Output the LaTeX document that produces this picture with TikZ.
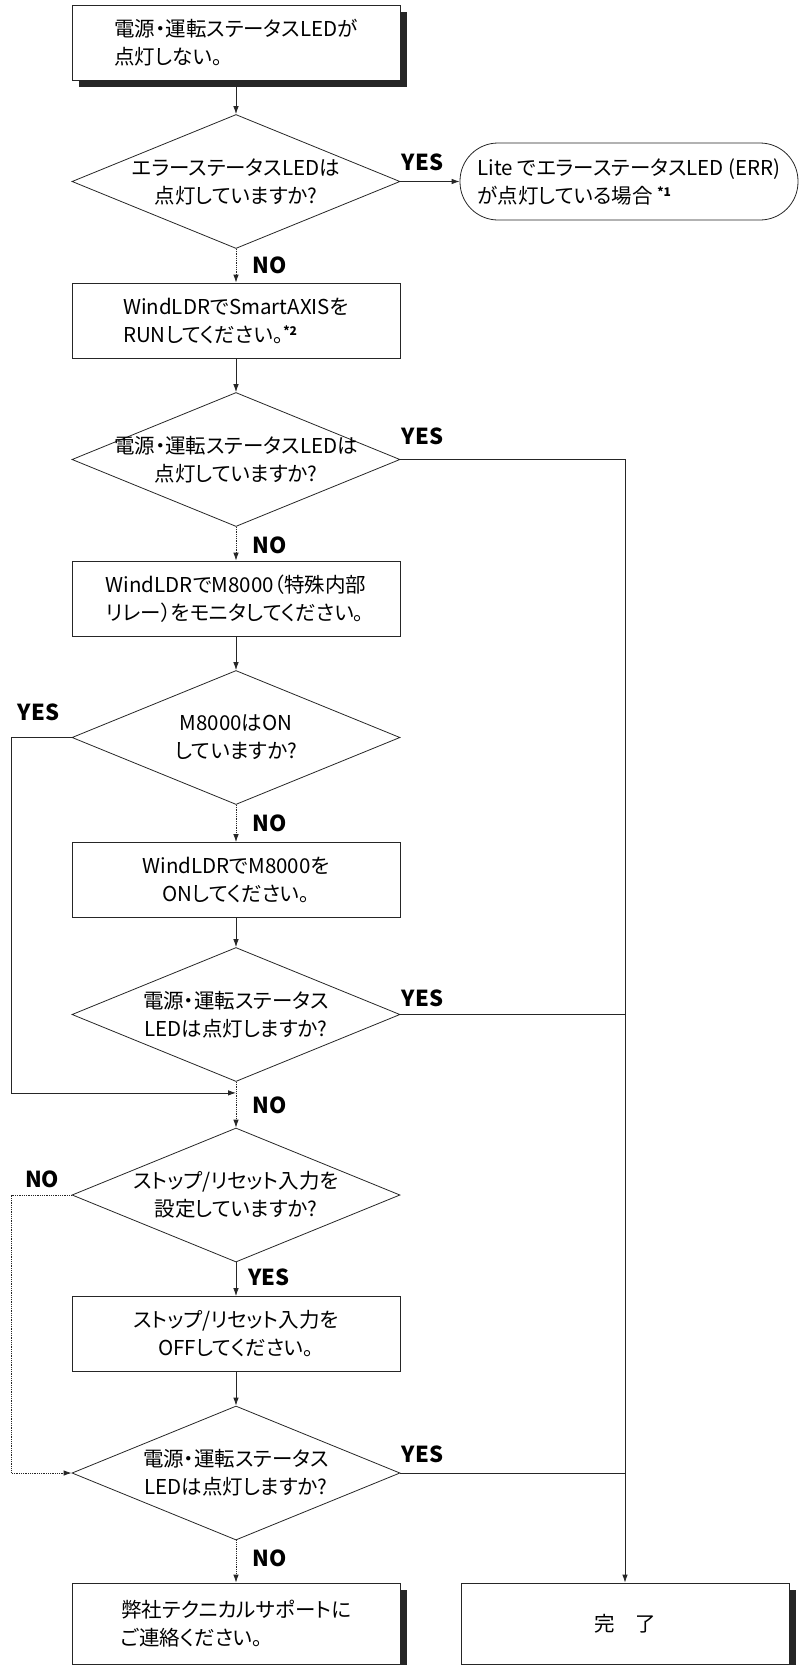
\documentclass[tikz,border=0pt]{standalone}
\usepackage{fontspec}
\setmainfont{Noto Sans CJK JP}[RawFeature=+palt]
\usepackage{tikz}
\usetikzlibrary{arrows.meta, positioning, shapes.geometric, shadows, calc}

\newcommand{\fnmark}[1]{\raisebox{7pt}{\fontsize{12}{12}\selectfont\bfseries *#1}}

\begin{document}
\begin{tikzpicture}[
        x=1pt, y=1pt,
        node distance=139pt,
        font=\fontsize{20.5}{28}\selectfont,
        line width=0.8pt,
        box/.style={draw=black!85, fill=white, align=left, minimum width=328pt, minimum height=75pt, inner sep=0pt},
        shbox/.style={box, drop shadow={shadow xshift=7pt, shadow yshift=-7pt, fill=black!85, opacity=1}},
        dec/.style={diamond, draw=black!85, align=center, aspect=2.45, minimum width=328pt, minimum height=134pt, inner sep=-12pt},
        term/.style={draw=black!85, rounded corners=38pt, align=left, minimum width=338pt, minimum height=77pt, inner sep=0pt},
        arrow/.style={-{Latex[length=8pt,width=5.5pt]}, draw=black!85},
        noflow/.style={arrow, densely dotted},
        yn/.style={font=\fontsize{22}{22}\selectfont\bfseries, inner sep=0pt}
    ]
        \useasboundingbox (0,0) rectangle (798,-1665);

        \node[shbox] (start) at (236,-42.5) {電源・運転ステータスLEDが\\点灯しない。};
        \node[dec, below of=start] (errled) {エラーステータスLEDは\\点灯していますか?};
        \node[term, right of=errled, xshift=254pt] (lite) {Lite でエラーステータスLED (ERR)\\が点灯している場合 \fnmark{1}};
        \node[box, below of=errled] (run) {WindLDRでSmartAXISを\\RUNしてください。\fnmark{2}};
        \node[dec, below of=run] (ledrun) {電源・運転ステータスLEDは\\点灯していますか?};
        \node[box, below of=ledrun] (monitor) {WindLDRでM8000（特殊内部\\リレー）をモニタしてください。};
        \node[dec, below of=monitor] (m8000) {M8000はON\\していますか?};
        \node[box, below of=m8000, yshift=-3.5pt, align=center] (m8000on) {WindLDRでM8000を\\ONしてください。};
        \node[dec, below of=m8000on, yshift=4.5pt] (ledon1) {電源・運転ステータス\\LEDは点灯しますか?};
        \node[dec, below of=ledon1, yshift=-41.5pt] (stopset) {ストップ/リセット入力を\\設定していますか?};
        \node[box, below of=stopset, align=center] (stopoff) {ストップ/リセット入力を\\OFFしてください。};
        \node[dec, below of=stopoff] (ledon2) {電源・運転ステータス\\LEDは点灯しますか?};
        \node[shbox, below of=ledon2, yshift=-11.5pt, minimum height=81pt] (support) {弊社テクニカルサポートに\\ご連絡ください。};
        \node[shbox, right of=support, xshift=250pt, minimum height=81pt, align=center] (done) {完　了};

        \coordinate (merge) at ($(ledon1.south)+(0,-11)$);

        % main column
        \draw[arrow] (start) -- (errled);
        \draw[arrow] (errled) -- node[yn, at start, anchor=south west, xshift=1pt, yshift=10pt] (yes1) {YES} (lite);
        \draw[noflow] (errled) -- node[yn, at start, anchor=north west, xshift=16pt, yshift=-8pt] (no1) {NO} (run);
        \draw[arrow] (run) -- (ledrun);
        \draw[noflow] (ledrun) -- node[yn, at start, anchor=north west, xshift=16pt, yshift=-10pt] (no2) {NO} (monitor);
        \draw[arrow] (monitor) -- (m8000);
        \draw[noflow] (m8000) -- node[yn, at start, anchor=north west, xshift=16pt, yshift=-10pt] (no3) {NO} (m8000on);
        \draw[arrow] (m8000on) -- (ledon1);
        \draw[noflow] (ledon1) -- node[yn, at start, anchor=north west, xshift=16pt, yshift=-15pt] (no4) {NO} (stopset);
        \draw[arrow] (stopset) -- node[yn, at start, anchor=north west, xshift=12pt, yshift=-6pt] (yes5) {YES} (stopoff);
        \draw[arrow] (stopoff) -- (ledon2);
        \draw[noflow] (ledon2) -- node[yn, at start, anchor=north west, xshift=16pt, yshift=-9pt] (no6) {NO} (support);

        % left side loops
        \draw[arrow] (m8000.west) -- node[yn, at start, anchor=south east, xshift=-12pt, yshift=16pt] (yes3) {YES} ++(-60,0) |- (merge);
        \draw[noflow] (stopset.west) -- node[yn, at start, anchor=south east, xshift=-12pt, yshift=7pt] (no5) {NO} ++(-60,0) |- (ledon2.west);

        % right side to done
        \draw[arrow] (ledrun.east) -| node[yn, at start, anchor=south west, xshift=1pt, yshift=14pt] (yes2) {YES} (done.north);
        \draw[draw=black!85] (ledon1.east) -- node[yn, at start, anchor=south west, xshift=1pt, yshift=7pt] (yes4) {YES} (ledon1.east -| done.north);
        \draw[draw=black!85] (ledon2.east) -- node[yn, at start, anchor=south west, xshift=1pt, yshift=10pt] (yes6) {YES} (ledon2.east -| done.north);
    \end{tikzpicture}
\end{document}
